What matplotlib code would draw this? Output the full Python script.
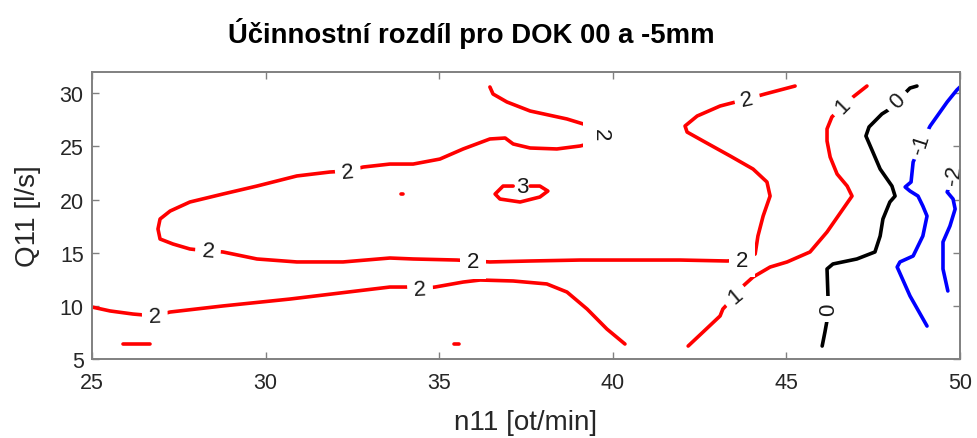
import matplotlib
matplotlib.use("Agg")
import matplotlib.pyplot as plt

plt.rcParams["font.family"] = ["Liberation Sans", "DejaVu Sans"]

# ---- contour level 2: long curve (upper tongue, closed-ish loop, right bend)
lvl2_main_n11 = [36.46, 36.55, 36.95, 37.62, 38.68, 39.43, 39.63, 39.40, 39.06, 38.39,
                 37.62, 37.13, 36.90, 36.46, 35.69, 35.02, 34.25, 33.58, 32.81, 32.37,
                 31.85, 30.90, 29.75, 28.77, 27.82, 27.25, 26.96, 26.90, 26.96, 27.33,
                 27.82, 28.34, 28.77, 29.75, 30.90, 32.23, 33.58, 34.25, 35.51, 35.97,
                 36.46, 37.62, 39.06, 41.94, 43.29, 43.72, 44.10, 44.18, 44.33, 44.53,
                 44.44, 44.04, 43.38, 42.60, 42.14, 42.08, 42.43, 43.09, 43.87, 44.38,
                 45.25]
lvl2_main_q11 = [30.59, 29.93, 29.18, 28.33, 27.58, 26.83, 26.17, 25.32, 25.04, 24.76,
                 24.85, 25.23, 25.79, 25.70, 24.76, 23.81, 23.34, 23.34, 23.06, 22.69,
                 22.59, 22.22, 21.27, 20.52, 19.77, 18.92, 18.17, 17.23, 16.29, 15.82,
                 15.35, 15.16, 15.07, 14.41, 14.13, 14.13, 14.50, 14.41, 14.31, 14.22,
                 14.13, 14.22, 14.31, 14.31, 14.22, 14.31, 14.88, 16.57, 18.45, 20.33,
                 21.65, 22.87, 24.10, 25.51, 26.35, 26.92, 27.86, 28.80, 29.46, 29.93,
                 30.68]

# ---- contour level 2: lower curve
lvl2_low_n11 = [25.00, 25.52, 26.18, 26.81, 27.25, 28.77, 30.70, 32.63, 33.58, 34.07,
                34.45, 34.88, 35.69, 36.18, 37.13, 38.10, 38.68, 39.26, 39.83, 40.35]
lvl2_low_q11 = [9.89, 9.52, 9.23, 9.05, 9.42, 9.99, 10.64, 11.40, 11.77, 11.77,
                11.59, 11.77, 12.24, 12.43, 12.34, 12.06, 11.30, 9.70, 7.82, 6.41]

# ---- contour level 2: small fragments
lvl2_frag1_n11 = [25.89, 26.67]
lvl2_frag1_q11 = [6.41, 6.41]
lvl2_frag2_n11 = [35.42, 35.58]
lvl2_frag2_q11 = [6.41, 6.41]
lvl2_frag3_n11 = [33.89, 33.97]
lvl2_frag3_q11 = [20.52, 20.52]

# ---- contour level 3: small island (open where its label sits)
lvl3_n11 = [37.62, 37.90, 38.13, 37.90, 37.33, 36.75, 36.61, 36.84, 37.13]
lvl3_q11 = [21.27, 21.27, 20.80, 20.24, 19.77, 20.05, 20.52, 21.27, 21.27]

# ---- contour level 1
lvl1_n11 = [42.17, 42.60, 43.09, 43.17, 43.52, 43.72, 44.04, 44.53, 45.02, 45.68,
            46.17, 46.63, 46.89, 46.75, 46.46, 46.26, 46.17, 46.17, 46.31, 46.63,
            46.92, 47.32]
lvl1_q11 = [6.22, 7.54, 9.05, 9.70, 10.93, 11.77, 12.71, 13.65, 14.13, 15.07,
            16.95, 19.11, 20.33, 21.27, 22.40, 24.00, 25.51, 26.64, 27.77, 28.80,
            29.65, 30.68]

# ---- contour level 0
lvl0_n11 = [46.03, 46.11, 46.23, 46.20, 46.17, 46.34, 47.03, 47.55, 47.70, 47.78,
            47.98, 48.13, 48.04, 47.70, 47.49, 47.29, 47.38, 47.75, 47.98, 48.19,
            48.56, 48.76]
lvl0_q11 = [6.22, 7.54, 9.70, 10.64, 13.47, 13.94, 14.41, 15.07, 16.57, 18.17,
            19.77, 20.33, 21.27, 22.87, 24.47, 25.98, 26.83, 28.05, 28.52, 29.27,
            30.49, 30.68]

# ---- contour level -1
lvlm1_n11 = [49.05, 48.56, 48.19, 48.27, 48.65, 48.93, 49.05, 48.93, 48.79, 48.56,
             48.42, 48.59, 48.65, 48.88, 49.14, 49.63, 49.91, 50.00]
lvlm1_q11 = [8.10, 10.93, 13.65, 14.13, 14.69, 16.57, 18.45, 19.39, 20.33, 20.80,
             21.18, 21.65, 23.53, 25.23, 26.92, 29.18, 30.31, 30.59]

# ---- contour level -2
lvlm2_n11 = [49.65, 49.51, 49.51, 49.71, 49.86, 49.80, 49.63, 49.83, 49.97]
lvlm2_q11 = [11.40, 13.47, 16.01, 17.51, 19.11, 20.05, 20.71, 22.40, 23.53]

# ---- inline contour labels
label_text = ["2", "2", "2", "2", "2", "2", "3", "2", "2", "1", "1", "0", "0", "-1", "-2"]
label_n11 = [32.37, 28.34, 26.81, 34.45, 35.97, 39.63, 37.38, 43.72, 43.87,
             43.52, 46.63, 46.23, 48.19, 48.88, 49.83]
label_q11 = [22.59, 15.16, 9.05, 11.59, 14.13, 26.17, 21.25, 14.31, 29.46,
             10.93, 28.80, 9.70, 29.27, 25.23, 22.40]

RED, BLACK, BLUE = "#ff0000", "#000000", "#0000ff"
curves = [
    (lvl2_main_n11, lvl2_main_q11, RED),
    (lvl2_low_n11, lvl2_low_q11, RED),
    (lvl2_frag1_n11, lvl2_frag1_q11, RED),
    (lvl2_frag2_n11, lvl2_frag2_q11, RED),
    (lvl2_frag3_n11, lvl2_frag3_q11, RED),
    (lvl3_n11, lvl3_q11, RED),
    (lvl1_n11, lvl1_q11, RED),
    (lvl0_n11, lvl0_q11, BLACK),
    (lvlm1_n11, lvlm1_q11, BLUE),
    (lvlm2_n11, lvlm2_q11, BLUE),
]
label_rotation = [5, -4, 2, 3, 0, -90, 0, 0, 12, 40, 45, 90, 45, 72, 82]
label_boxed = [True] * 6 + [False] + [True] * 8

fig = plt.figure(figsize=(9.78, 4.39), dpi=100)
ax = fig.add_axes([0.09407, 0.17995, 0.88753, 0.65376])

for n, q, c in curves:
    ax.plot(n, q, color=c, lw=2.6, solid_capstyle="round", solid_joinstyle="round", zorder=2)

for s, n, q, r, boxed in zip(label_text, label_n11, label_q11, label_rotation, label_boxed):
    box = dict(boxstyle="square,pad=0.3", fc="white", ec="none") if boxed else None
    ax.text(n, q, s, rotation=r, rotation_mode="anchor", ha="center", va="center",
            fontsize=16, color="#1a1a1a", zorder=2.2, bbox=box)

ax.set_xlim(25, 50)
ax.set_ylim(5, 32)
ax.set_xticks([25, 30, 35, 40, 45, 50])
ax.set_yticks([5, 10, 15, 20, 25, 30])

AX_GRAY = "#808080"
TXT_GRAY = "#262626"
for sp in ax.spines.values():
    sp.set_color(AX_GRAY)
    sp.set_linewidth(1.4)
ax.tick_params(direction="in", length=5, width=1, color=AX_GRAY, labelcolor=TXT_GRAY,
               labelsize=15.5, top=True, right=True)
ax.tick_params(axis="x", pad=9)
ax.tick_params(axis="y", pad=6)

ax.set_xlabel("n11 [ot/min]", fontsize=20, color=TXT_GRAY)
ax.xaxis.label.set_va("baseline")
ax.xaxis.set_label_coords(0.5, -0.2439)
ax.set_ylabel("Q11 [l/s]", fontsize=20, color=TXT_GRAY)
ax.yaxis.label.set_va("center")
ax.yaxis.set_label_coords(-0.074, 0.5)

fig.text(471.5 / 978, 1 - 43 / 439, "Účinnostní rozdíl pro DOK 00 a -5mm",
         ha="center", va="baseline", fontsize=19.8, fontweight="bold", color="#000000")

fig.savefig("out.png", dpi=100)
